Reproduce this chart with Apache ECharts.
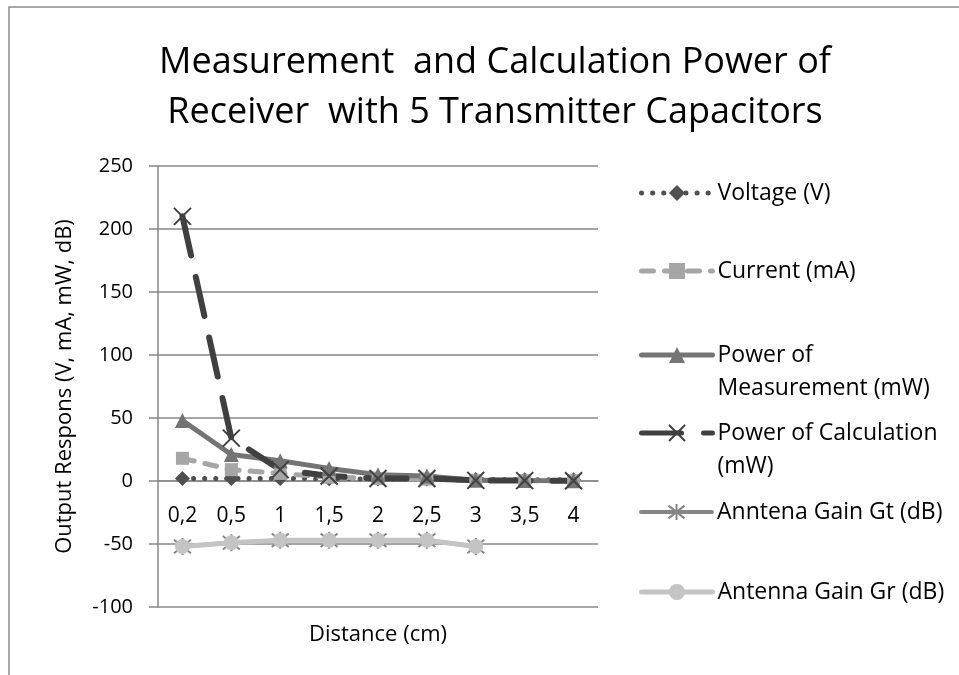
<!DOCTYPE html>
<html>
<head>
<meta charset="utf-8">
<script src="https://cdn.jsdelivr.net/npm/echarts@6/dist/echarts.min.js"></script>
<style>
  html, body { margin: 0; padding: 0; background: #fff; }
  #chart { width: 959px; height: 675px; }
</style>
</head>
<body>
<div id="chart"></div>
<script>
const distances = ['0,2', '0,5', '1', '1,5', '2', '2,5', '3', '3,5', '4'];

const voltage = [2, 2, 2, 1.8, 1.6, 1.5, 1.2, 1, 0.9];
const current = [18, 9, 6, 3, 2, 1.5, 0.5, 0.3, 0.2];
const powerMeasured = [48, 21, 16, 10, 5, 4, 0.5, 0.3, 0.2];
const powerCalculated = [210, 34, 9, 4, 2, 2, 0.5, 0.3, 0.2];
const gainGt = [-52, -49, -47, -47, -47, -47, -52, null, null];
const gainGr = [-52, -49, -47, -47, -47, -47, -52, null, null];

const yTicks = { min: -100, max: 250, interval: 50 };

const FONT = '"Open Sans", "Noto Sans", sans-serif';
const gridGray = '#888888';

const xMark = 'path://M0,0 L10,10 M10,0 L0,10';
const starMark = 'path://M5,0 L5,10 M1,1 L9,9 M9,1 L1,9';

const seriesDefs = [
  { name: 'Voltage (V)', data: voltage, color: '#505050', type: [0.1, 11], width: 5, symbol: 'diamond', size: 15 },
  { name: 'Current (mA)', data: current, color: '#a6a6a6', type: [12, 11], width: 5, symbol: 'rect', size: 13 },
  { name: 'Power of Measurement (mW)', data: powerMeasured, color: '#747474', type: 'solid', width: 5, symbol: 'triangle', size: 15 },
  { name: 'Power of Calculation (mW)', data: powerCalculated, color: '#404040', type: [40, 22], width: 6, symbol: xMark, size: 17, stroke: true },
  { name: 'Anntena Gain Gt (dB)', data: gainGt, color: '#868686', type: 'solid', width: 4, symbol: starMark, size: 17, stroke: true },
  { name: 'Antenna Gain Gr (dB)', data: gainGr, color: '#c4c4c4', type: 'solid', width: 5, symbol: 'circle', size: 15 }
];

// two-line legend entries get an empty first line so the icon sits on "line one"
const legendLabels = {
  'Power of Measurement (mW)': '\nPower of\nMeasurement (mW)',
  'Power of Calculation (mW)': '\nPower of Calculation\n(mW)'
};
const legendCenters = [193, 271, 355, 433, 512, 592];
const LINE_H = 33;

// plot box
const GRID = { left: 158, right: 361, top: 166, bottom: 68 };
const plotH = 675 - GRID.top - GRID.bottom;
const zeroY = GRID.top + plotH * yTicks.max / (yTicks.max - yTicks.min);

const chart = echarts.init(document.getElementById('chart'));

const legends = seriesDefs.map((s, i) => {
  const lines = legendLabels[s.name] ? 3 : 1;
  return {
    data: [s.name],
    left: 639,
    top: legendCenters[i] - (lines * LINE_H) / 2,
    padding: 0,
    itemWidth: 71,
    itemHeight: 20,
    lineStyle: { width: Math.min(s.width, 5) },
    formatter: (n) => legendLabels[n] || n,
    textStyle: {
      fontFamily: FONT,
      fontSize: 23,
      color: '#000',
      lineHeight: LINE_H
    }
  };
});

chart.setOption({
  animation: false,
  backgroundColor: '#fff',
  title: {
    text: 'Measurement  and Calculation Power of\nReceiver  with 5 Transmitter Capacitors',
    left: 490,
    textAlign: 'center',
    top: 33,
    textStyle: { fontFamily: FONT, fontSize: 36, fontWeight: 'normal', color: '#000', lineHeight: 50 }
  },
  graphic: [{
    type: 'rect',
    shape: { x: 9, y: 7, width: 1000, height: 800 },
    style: { fill: 'none', stroke: '#8c8c8c', lineWidth: 1.5 },
    silent: true
  }],
  legend: legends,
  grid: Object.assign({ outerBoundsMode: 'none' }, GRID),
  xAxis: {
    type: 'category',
    data: distances,
    boundaryGap: true,
    offset: -(GRID.top + plotH - zeroY),
    name: 'Distance (cm)',
    nameLocation: 'middle',
    nameGap: 143,
    nameMoveOverlap: false,
    nameTextStyle: { fontFamily: FONT, fontSize: 22, color: '#000' },
    axisLine: { onZero: false, lineStyle: { color: gridGray, width: 1.5 } },
    axisTick: { show: false },
    axisLabel: { fontFamily: FONT, fontSize: 21, color: '#000', margin: 25 }
  },
  yAxis: {
    type: 'value',
    min: yTicks.min,
    max: yTicks.max,
    interval: yTicks.interval,
    name: 'Output Respons (V, mA, mW, dB)',
    nameLocation: 'middle',
    nameGap: 82,
    nameMoveOverlap: false,
    nameTextStyle: { fontFamily: FONT, fontSize: 22, color: '#000' },
    axisLine: { show: true, lineStyle: { color: gridGray, width: 1.5 } },
    axisTick: { show: true, length: 9, lineStyle: { color: gridGray, width: 1.5 } },
    axisLabel: { fontFamily: FONT, fontSize: 20, color: '#000', margin: 25 },
    splitLine: { lineStyle: { color: gridGray, width: 1.5 } }
  },
  series: seriesDefs.map((s, i) => ({
    name: s.name,
    type: 'line',
    data: s.data,
    z: 2 + (i === 5 ? 1 : 0),
    symbol: s.symbol,
    symbolSize: s.size,
    showAllSymbol: true,
    connectNulls: false,
    lineStyle: { color: s.color, width: s.width, type: s.type, cap: 'round' },
    itemStyle: s.stroke
      ? { color: 'none', borderColor: s.color, borderWidth: 2 }
      : { color: s.color, borderWidth: 0 }
  }))
});
</script>
</body>
</html>
